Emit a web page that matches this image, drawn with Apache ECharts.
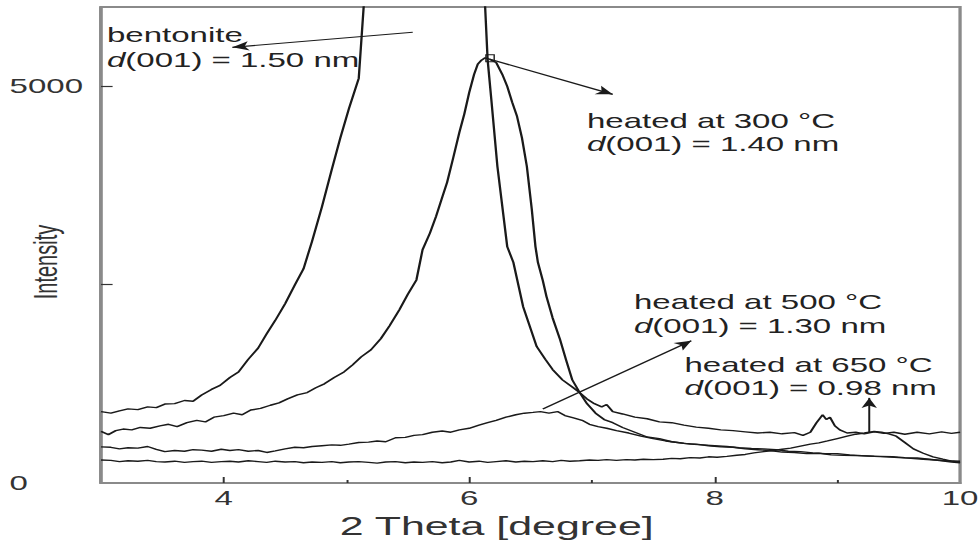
<!DOCTYPE html>
<html>
<head>
<meta charset="utf-8">
<script src="https://cdn.jsdelivr.net/npm/echarts@6/dist/echarts.min.js"></script>
<style>
html,body{margin:0;padding:0;background:#fff;overflow:hidden;}
#wrap{width:979px;height:545px;overflow:hidden;}
#c{width:593px;height:545px;transform:scaleX(1.651);transform-origin:0 0;}
</style>
</head>
<body>
<div id="wrap"><div id="c"></div></div>
<script>
// ---- data (2θ in degrees, intensity) ----
const bentonite = [
[3.00,900],[3.08,880],[3.15,910],[3.22,935],[3.30,925],[3.38,960],[3.45,950],[3.52,995],[3.60,1000],[3.68,1040],
[3.75,1030],[3.82,1110],[3.90,1180],[3.97,1230],[4.05,1330],[4.12,1400],[4.20,1560],[4.28,1700],[4.35,1880],[4.42,2050],
[4.50,2260],[4.58,2500],[4.65,2700],[4.72,3050],[4.80,3480],[4.88,3950],[4.95,4350],[5.02,4720],[5.10,5100],[5.14,6000],
[5.18,6900],[5.30,9500],[5.50,12500],[5.65,13000],[5.80,12000],[5.95,9500],[6.08,7000],[6.13,6000],[6.15,5340],[6.18,4840],
[6.23,3990],[6.31,2980],[6.36,2780],[6.44,2220],[6.55,1720],[6.62,1560],[6.68,1430],[6.76,1300],[6.84,1210],[6.90,1140],
[6.96,1060],[7.02,1000],[7.08,960],[7.12,990],[7.17,900],[7.25,870],[7.35,830],[7.45,810],[7.55,770],[7.65,760],
[7.75,730],[7.85,705],[7.95,690],[8.05,670],[8.15,660],[8.25,645],[8.35,630],[8.45,640],[8.55,620],[8.65,635],
[8.72,600],[8.78,640],[8.83,760],[8.86,820],[8.88,860],[8.91,800],[8.94,830],[8.98,720],[9.02,670],[9.08,630],
[9.15,640],[9.22,620],[9.30,645],[9.38,625],[9.46,640],[9.55,615],[9.65,640],[9.75,620],[9.85,645],[9.93,625],[10.0,640]
];
const heated300 = [
[3.00,650],[3.06,610],[3.12,660],[3.18,680],[3.25,670],[3.32,700],[3.40,690],[3.48,720],[3.55,740],[3.62,710],
[3.70,760],[3.78,790],[3.85,770],[3.92,830],[4.00,850],[4.08,880],[4.15,860],[4.22,920],[4.30,940],[4.38,980],
[4.45,1010],[4.52,1060],[4.60,1110],[4.68,1140],[4.75,1200],[4.82,1250],[4.90,1330],[4.98,1400],[5.05,1490],[5.12,1590],
[5.20,1680],[5.28,1820],[5.35,1980],[5.43,2180],[5.50,2380],[5.57,2560],[5.62,2940],[5.68,3150],[5.73,3360],[5.78,3600],
[5.82,3790],[5.87,4100],[5.92,4420],[5.96,4650],[6.00,4920],[6.04,5150],[6.07,5280],[6.10,5330],[6.13,5360],[6.17,5340],
[6.22,5300],[6.27,5150],[6.31,5000],[6.35,4800],[6.39,4620],[6.43,4350],[6.47,3990],[6.51,3450],[6.54,2980],[6.56,2780],
[6.60,2550],[6.63,2350],[6.68,2080],[6.74,1810],[6.79,1550],[6.84,1300],[6.90,1140],[6.96,1000],[7.03,880],[7.10,800],
[7.17,760],[7.25,700],[7.35,640],[7.45,580],[7.55,560],[7.65,520],[7.75,500],[7.85,490],[7.95,470],[8.05,455],
[8.15,450],[8.25,430],[8.35,420],[8.45,410],[8.55,390],[8.65,385],[8.75,370],[8.85,375],[8.95,355],[9.05,350],
[9.15,345],[9.25,340],[9.35,335],[9.45,330],[9.55,320],[9.65,315],[9.75,300],[9.85,280],[9.93,265],[10.0,255]
];
const heated500 = [
[3.00,455],[3.08,450],[3.15,430],[3.22,445],[3.30,440],[3.38,460],[3.45,425],[3.52,395],[3.60,410],[3.68,400],
[3.75,420],[3.82,415],[3.90,400],[3.98,425],[4.05,410],[4.12,420],[4.20,400],[4.28,410],[4.35,385],[4.42,405],
[4.50,430],[4.58,450],[4.65,445],[4.72,460],[4.80,470],[4.88,480],[4.95,475],[5.02,490],[5.10,510],[5.18,515],
[5.25,530],[5.32,520],[5.40,570],[5.48,575],[5.55,600],[5.62,610],[5.70,640],[5.78,655],[5.85,640],[5.92,670],
[6.00,690],[6.08,730],[6.15,760],[6.22,790],[6.30,830],[6.38,860],[6.45,880],[6.52,890],[6.58,900],[6.65,880],
[6.72,900],[6.78,850],[6.85,820],[6.92,790],[6.98,740],[7.05,710],[7.12,690],[7.20,660],[7.30,630],[7.40,590],
[7.50,560],[7.60,530],[7.70,510],[7.80,490],[7.90,480],[8.00,470],[8.10,460],[8.20,445],[8.30,435],[8.40,430],
[8.50,420],[8.60,400],[8.70,395],[8.80,380],[8.90,370],[9.00,370],[9.10,355],[9.20,345],[9.30,335],[9.40,330],
[9.50,320],[9.60,310],[9.70,300],[9.80,290],[9.90,280],[10.0,275]
];
const heated650 = [
[3.00,290],[3.08,285],[3.15,270],[3.22,280],[3.30,275],[3.38,285],[3.45,270],[3.52,265],[3.60,275],[3.68,260],
[3.75,270],[3.82,275],[3.90,260],[3.98,270],[4.05,275],[4.12,265],[4.20,280],[4.28,270],[4.35,260],[4.42,275],
[4.50,265],[4.58,270],[4.65,255],[4.72,265],[4.80,260],[4.88,270],[4.95,255],[5.02,265],[5.10,270],[5.18,260],
[5.25,250],[5.32,265],[5.40,270],[5.48,255],[5.55,265],[5.62,260],[5.70,270],[5.78,255],[5.85,265],[5.92,285],
[6.00,265],[6.08,275],[6.15,260],[6.22,270],[6.30,280],[6.38,265],[6.45,275],[6.52,270],[6.60,280],[6.68,270],
[6.75,285],[6.82,275],[6.90,280],[6.98,290],[7.05,285],[7.12,295],[7.20,285],[7.28,295],[7.35,290],[7.42,300],
[7.50,295],[7.58,300],[7.65,310],[7.72,305],[7.80,320],[7.88,315],[7.95,330],[8.02,325],[8.10,335],[8.18,350],
[8.25,360],[8.32,380],[8.40,395],[8.48,410],[8.55,425],[8.62,440],[8.70,465],[8.78,490],[8.85,505],[8.92,530],
[9.00,560],[9.08,590],[9.15,615],[9.22,630],[9.30,650],[9.36,640],[9.42,620],[9.48,590],[9.55,510],[9.62,430],
[9.70,375],[9.78,330],[9.86,300],[9.93,275],[10.0,260]
];
// axis ticks / labels
const xTickLabels = [4, 6, 8, 10];
const xMajorTicks = [4, 6, 8];
const xMinorTicks = [5, 7, 9];
const yTickLabels = [0, 5000];
const yTicks = [2500, 5000];
const xTitle = '2 Theta [degree]';
const yTitle = 'Intensity';
// annotation arrows: [tail, head] in data coordinates
const arrowBentonite = [[5.54, 5682], [4.07, 5492]];
const arrow300 = [[6.17, 5341], [7.17, 4899]];
const arrow500 = [[6.60, 934], [7.81, 1793]];
const arrow650 = [[9.26, 631], [9.26, 1073]];
const peakMarker300 = [6.17, 5354];
// annotation texts
const labelTexts = [
  ['bentonite', '{i|d}(001) = 1.50 nm'],
  ['heated at 300 °C', '{i|d}(001) = 1.40 nm'],
  ['heated at 500 °C', '{i|d}(001) = 1.30 nm'],
  ['heated at 650 °C', '{i|d}(001) = 0.98 nm']
];

const FONT = "'Liberation Sans', Arial, sans-serif";
const INK = '#1a1a1a';

function arrowLine(a) {
  return {
    silent: true,
    symbol: ['none', 'arrow'],
    symbolSize: [7, 10],
    label: {show: false},
    lineStyle: {color: INK, width: 1.2, type: 'solid'},
    data: [[{coord: a[0], symbol: 'none'}, {coord: a[1], symbol: 'arrow'}]]
  };
}
function lineSeries(name, data, arrow, extra) {
  return Object.assign({
    name: name, type: 'line', data: data, showSymbol: false, symbol: 'none',
    clip: true, smooth: false,
    lineStyle: {color: INK, width: 1.4},
    markLine: arrowLine(arrow)
  }, extra || {});
}
const textPos = [[64.8, 35, 60], [355.5, 121, 144], [384, 302, 326], [414.6, 365, 388]];
const graphics = [];
labelTexts.forEach((pair, k) => {
  const p = textPos[k];
  pair.forEach((t, j) => {
    graphics.push({
      type: 'text', x: p[0], y: p[1 + j], silent: true,
      style: {
        text: t, fill: '#222', font: '20px ' + FONT, verticalAlign: 'middle', align: 'left',
        rich: {i: {fontStyle: 'italic', fontSize: 20, fontFamily: FONT, fill: '#222'}}
      }
    });
  });
});
// y-axis title (rotated)
graphics.push({
  type: 'text', x: 27.5, y: 262, rotation: Math.PI / 2, silent: true,
  style: {text: yTitle, fill: '#333', font: '20px ' + FONT, align: 'center', verticalAlign: 'middle'}
});

const chart = echarts.init(document.getElementById('c'), null, {renderer: 'svg'});
chart.setOption({
  animation: false,
  backgroundColor: '#fff',
  grid: {left: 61.2, right: 11.5, top: 7, bottom: 62, containLabel: false, outerBoundsMode: 'none',
    show: true, borderColor: '#8a8a8a', borderWidth: 2, backgroundColor: 'transparent'},
  xAxis: [{
    type: 'value', min: 3, max: 10, interval: 1,
    name: xTitle, nameLocation: 'middle', nameGap: 24,
    nameTextStyle: {fontSize: 26, fontFamily: FONT, color: '#333', padding: [0, 41, 0, 0]},
    axisLine: {show: true, lineStyle: {color: '#8a8a8a', width: 2}},
    axisTick: {show: true, inside: true, length: 6, customValues: xMajorTicks, lineStyle: {color: '#333', width: 1.2}},
    axisLabel: {show: true, customValues: xTickLabels, margin: 5, fontSize: 20, fontFamily: FONT, color: '#333',
      formatter: v => String(v)},
    splitLine: {show: false}
  }, {
    type: 'value', min: 3, max: 10, interval: 1, position: 'bottom',
    axisLine: {show: false},
    axisTick: {show: true, inside: true, length: 3, customValues: xMinorTicks, lineStyle: {color: '#333', width: 1.2}},
    axisLabel: {show: false},
    splitLine: {show: false}
  }],
  yAxis: {
    type: 'value', min: 0, max: 6000, interval: 2500,
    axisLine: {show: true, lineStyle: {color: '#8a8a8a', width: 2}},
    axisTick: {show: true, inside: true, length: 7, customValues: yTicks, lineStyle: {color: '#333', width: 1.2}},
    axisLabel: {show: true, customValues: yTickLabels, align: 'left', margin: 55.4, fontSize: 20, fontFamily: FONT, color: '#333',
      formatter: v => String(v)},
    splitLine: {show: false}
  },
  graphic: graphics,
  series: [
    lineSeries('bentonite', bentonite, arrowBentonite),
    lineSeries('heated at 300 °C', heated300, arrow300, {
      markPoint: {silent: true, label: {show: false}, data: [{coord: peakMarker300, symbol: 'rect', symbolSize: [5, 7],
        itemStyle: {color: 'rgba(0,0,0,0)', borderColor: INK, borderWidth: 1}}]}
    }),
    lineSeries('heated at 500 °C', heated500, arrow500),
    lineSeries('heated at 650 °C', heated650, arrow650)
  ]
});
</script>
</body>
</html>
